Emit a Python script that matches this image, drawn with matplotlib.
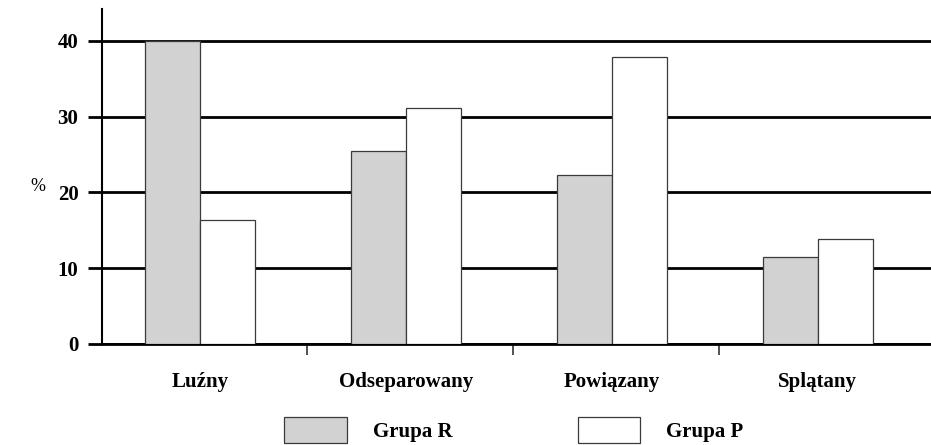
import matplotlib
matplotlib.use("Agg")
import matplotlib.pyplot as plt
import numpy as np
from matplotlib.patches import Patch

# data
categories = ["Luźny", "Odseparowany", "Powiązany", "Splątany"]
grupa_r = [40.0, 25.4, 22.3, 11.5]
grupa_p = [16.4, 31.1, 37.9, 13.9]
series_labels = ["Grupa R", "Grupa P"]
y_ticks = [0, 10, 20, 30, 40]

plt.rcParams["font.family"] = ["Liberation Serif", "DejaVu Serif"]

fig = plt.figure(figsize=(9.31, 4.45), dpi=100)
ax = fig.add_axes([0.1096, 0.227, 0.8904, 0.753])

x = np.arange(len(categories))
w = 0.267
gray = "#d2d2d2"
ax.bar(x - w / 2, grupa_r, width=w, color=gray, edgecolor="#3a3a3a", linewidth=0.9, zorder=3)
ax.bar(x + w / 2, grupa_p, width=w, color="white", edgecolor="#3a3a3a", linewidth=0.9, zorder=3)

ax.set_xlim(-0.476, 3.549)
ax.set_ylim(0, 44.2)

# y axis: bold ticks with thick gridlines
ax.set_yticks(y_ticks)
ax.set_yticklabels([str(t) for t in y_ticks], fontsize=15, fontweight="bold")
ax.tick_params(axis="y", direction="out", length=10, width=2, pad=7, color="black")
ax.yaxis.grid(True, color="black", linewidth=2)
ax.set_axisbelow(True)

# x axis: labels under groups, small ticks between groups
ax.set_xticks(x)
ax.set_xticklabels(categories, fontsize=15, fontweight="bold")
ax.tick_params(axis="x", which="major", length=0, pad=20)
ax.set_xticks(x[:-1] + 0.52, minor=True)
ax.tick_params(axis="x", which="minor", direction="out", length=8, width=1.2, color="#333333")

for s in ["top", "right"]:
    ax.spines[s].set_visible(False)
ax.spines["left"].set_linewidth(1.5)
ax.spines["bottom"].set_linewidth(2)

ax.set_ylabel("%", rotation=0, fontsize=13, va="center")
ax.yaxis.set_label_coords(-0.078, 0.47)

handles = [Patch(facecolor=gray, edgecolor="#3a3a3a", linewidth=0.9),
           Patch(facecolor="white", edgecolor="#3a3a3a", linewidth=0.9)]
fig.legend(handles, series_labels, loc="center", bbox_to_anchor=(0.552, 1 - 430 / 445),
           ncol=2, frameon=False, handlelength=3.0, handleheight=1.5,
           handletextpad=1.25, columnspacing=6.0, borderpad=0,
           prop={"family": "Liberation Serif", "weight": "bold", "size": 15})

fig.savefig("out.png", dpi=100)
